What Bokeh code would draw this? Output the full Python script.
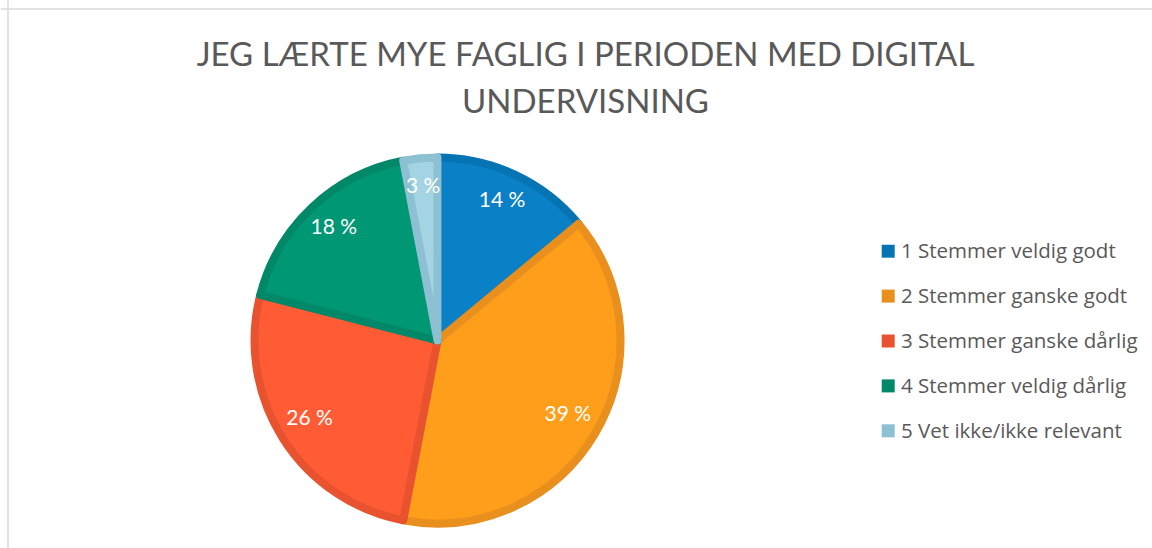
import math
from bokeh.plotting import figure
from bokeh.models import ColumnDataSource, Range1d, Span
from bokeh.core.properties import value
from bokeh.embed import file_html
from bokeh.resources import INLINE

# ---- data ----
categories = ["1 Stemmer veldig godt", "2 Stemmer ganske godt", "3 Stemmer ganske dårlig",
              "4 Stemmer veldig dårlig", "5 Vet ikke/ikke relevant"]
shares = [14, 39, 26, 18, 3]
title_lines = ["JEG LÆRTE MYE FAGLIG I PERIODEN MED DIGITAL", "UNDERVISNING"]

# ---- style ----
fills = ["#0A80C6", "#FF9E1B", "#FF5C35", "#009874", "#A4D3E3"]
borders = ["#0673B3", "#E88F1D", "#E8522F", "#008868", "#8CC0D2"]
W, H = 1152, 548
GREY = "#595959"

p = figure(width=W, height=H, output_backend="svg", toolbar_location=None,
           x_range=Range1d(0, W), y_range=Range1d(0, H),
           x_axis_type=None, y_axis_type=None, min_border=0)
p.grid.visible = False
p.outline_line_color = None
p.background_fill_color = "white"
p.border_fill_color = "white"

# chart border (top & left visible in reference)
p.add_layout(Span(location=7.5, dimension="height", line_color="#D9D9D9", line_width=1.5))
p.add_layout(Span(location=H - 8.5, dimension="width", line_color="#D9D9D9", line_width=1.5))

# ---- pie ----
cx, cy = 437, 208
stroke = 8
r_out = 187
r_path = r_out - stroke / 2
total = float(sum(shares))
starts, ends, lx, ly, labels = [], [], [], [], []
cum = 0.0
for s in shares:
    a0 = math.pi / 2 - 2 * math.pi * cum / total
    cum += s
    a1 = math.pi / 2 - 2 * math.pi * cum / total
    starts.append(a0)
    ends.append(a1)
    mid = (a0 + a1) / 2
    lx.append(cx + 0.81 * r_out * math.cos(mid))
    ly.append(cy + 0.81 * r_out * math.sin(mid))
    labels.append(f"{s} %")

src = ColumnDataSource(dict(start=starts, end=ends, fill=fills, line=borders,
                            lx=lx, ly=ly, label=labels))
p.wedge(x=cx, y=cy, radius=r_path, start_angle="start", end_angle="end",
        direction="clock", fill_color="fill", line_color="line",
        line_width=stroke, line_join="round", source=src)
p.text(x="lx", y="ly", text="label", source=src, text_color="white",
       text_font=value("Lato"), text_font_size="21px", y_offset=-5,
       text_align="center", text_baseline="middle")

# ---- title ----
p.text(x=[585, 585], y=[H - 52, H - 99], text=title_lines, text_color=GREY,
       text_font=value("Lato"), text_font_size="33px",
       text_align="center", text_baseline="middle")

# ---- legend ----
ly0, dy = H - 250.7, 44.9
leg_y = [ly0 - i * dy for i in range(len(categories))]
p.rect(x=[887.7] * len(categories), y=leg_y, width=13, height=13,
       width_units="screen", height_units="screen",
       fill_color=borders, line_color=None)
p.text(x=[900.5] * len(categories), y=leg_y, text=categories, text_color=GREY,
       text_font=value("Open Sans"), text_font_size="20.5px", y_offset=-1,
       text_align="left", text_baseline="middle")

open("out.html", "w").write(file_html(p, INLINE))
